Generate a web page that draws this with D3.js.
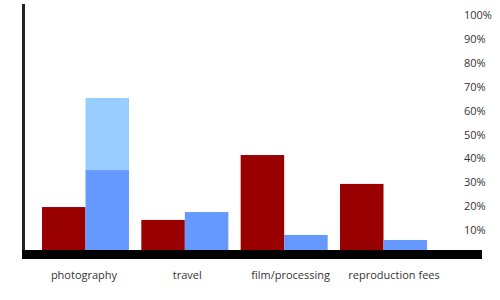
<!DOCTYPE html>
<html lang="en">
<head>
    <meta charset="UTF-8">
    <title>Expenses chart</title>
    <style>
        body { margin: 0; background: #fff; }
        text { font-family: "Open Sans", sans-serif; font-size: 11px; fill: #333; }
    </style>
</head>
<body>
    <svg width="500" height="300"></svg>
    <script src="https://d3js.org/d3.v7.min.js"></script>
    <script>
        var categories = ["photography", "travel", "film/processing", "reproduction fees"];
        var redValues = [18, 12.6, 39.8, 27.7];
        var blueValues = [33.5, 15.9, 6.3, 4.2];
        var lightBlueExtra = [30.2, 0, 0, 0];
        var tickValues = [10, 20, 30, 40, 50, 60, 70, 80, 90, 100];

        var svg = d3.select("svg");

        var y = d3.scaleLinear().domain([0, 100]).range([250, 11.4]);

        var x0 = d3.scaleBand().domain(categories).range([42, 427]).paddingInner(0.124).paddingOuter(0);
        var x1 = d3.scaleBand().domain(["red", "blue"]).range([0, x0.bandwidth()]);
        var labelX = d3.scalePoint().domain(categories).range([84, 394]);

        var groups = svg.selectAll(".group")
            .data(categories)
            .enter().append("g")
            .attr("class", "group")
            .attr("transform", function(d) { return "translate(" + x0(d) + ",0)"; });

        // red bars
        groups.append("rect")
            .attr("x", x1("red"))
            .attr("width", x1.bandwidth())
            .attr("y", function(d, i) { return y(redValues[i]); })
            .attr("height", function(d, i) { return y(0) - y(redValues[i]); })
            .attr("fill", "#990000");

        // light blue stacked on top of blue
        groups.append("rect")
            .attr("x", x1("blue"))
            .attr("width", x1.bandwidth())
            .attr("y", function(d, i) { return y(blueValues[i] + lightBlueExtra[i]); })
            .attr("height", function(d, i) { return y(blueValues[i]) - y(blueValues[i] + lightBlueExtra[i]); })
            .attr("fill", "#99ccff");

        groups.append("rect")
            .attr("x", x1("blue"))
            .attr("width", x1.bandwidth())
            .attr("y", function(d, i) { return y(blueValues[i]); })
            .attr("height", function(d, i) { return y(0) - y(blueValues[i]); })
            .attr("fill", "#6699ff");

        // axes lines
        svg.append("rect")
            .attr("x", 22).attr("y", 4)
            .attr("width", 3).attr("height", y(0) - 4)
            .attr("fill", "#222");

        svg.append("rect")
            .attr("x", 22).attr("y", y(0))
            .attr("width", 460).attr("height", 9)
            .attr("fill", "#000");

        // right side tick labels
        svg.selectAll(".tick")
            .data(tickValues)
            .enter().append("text")
            .attr("class", "tick")
            .attr("x", 464)
            .attr("y", function(d) { return y(d) + 4; })
            .attr("dy", "0.35em")
            .text(function(d) { return d + "%"; });

        // category labels
        svg.selectAll(".cat")
            .data(categories)
            .enter().append("text")
            .attr("class", "cat")
            .attr("x", function(d) { return labelX(d); })
            .attr("y", 275)
            .attr("dy", "0.35em")
            .attr("text-anchor", "middle")
            .text(function(d) { return d; });
    </script>
</body>
</html>
